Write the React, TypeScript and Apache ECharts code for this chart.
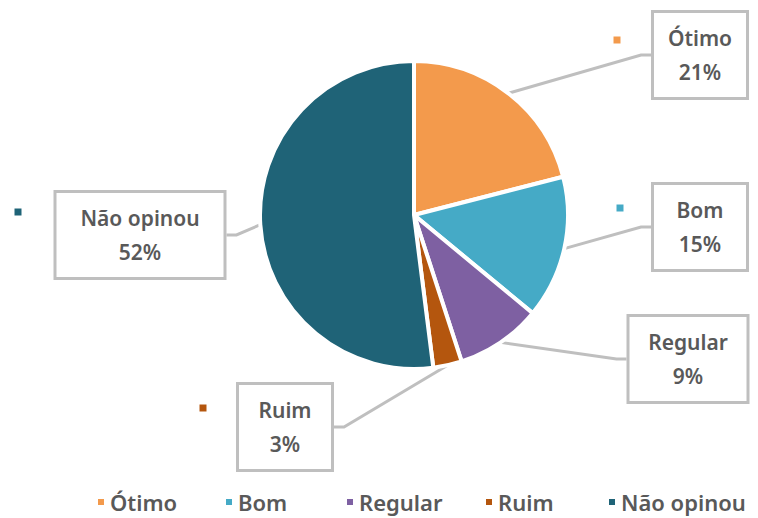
import React, { useEffect, useRef } from "react";
import * as echarts from "echarts";

const categories = ["Ótimo", "Bom", "Regular", "Ruim", "Não opinou"];
const values = [21, 15, 9, 3, 52];
const colors = ["#F39A4C", "#45AAC6", "#7E60A2", "#B4560E", "#1F6377"];
const showKey = [true, true, false, true, true];

// label box layout (center x, center y, inner width)
const boxLayout = [
  [700, 55, 76],
  [700, 227, 76],
  [688, 359, 101],
  [285, 427, 76],
  [140, 235, 151],
];
const keyLayout = [
  [617, 40],
  [620, 208],
  [0, 0],
  [203, 408],
  [18, 212],
];
// legend text slot widths
const legendWidths = [94, 87, 105, 89, 125];

const FONT = "Noto Sans";
const TXT = "#595959";

export default function App() {
  const ref = useRef<HTMLDivElement>(null);
  useEffect(() => {
    document.body.style.margin = "0";
    const chart = echarts.init(ref.current!, null, { renderer: "svg" });
    const mainData = categories.map((name, i) => ({
      name,
      value: values[i],
      itemStyle: { color: colors[i] },
      label: { width: boxLayout[i][2] },
    }));
    const keyData = categories.map((name, i) => ({
      name,
      value: values[i],
      label: {
        show: showKey[i],
        rich: { s: { width: 7, height: 7, backgroundColor: colors[i] } },
      },
    }));
    const legendRich: any = {};
    legendWidths.forEach((w, i) => {
      legendRich["w" + i] = {
        width: w,
        fontFamily: FONT,
        fontSize: 22,
        fontWeight: 600,
        color: TXT,
        lineHeight: 24,
        align: "left",
      };
    });
    chart.setOption({
      animation: false,
      textStyle: { fontFamily: FONT },
      legend: {
        data: categories,
        top: 491,
        left: 96,
        width: 700,
        padding: 0,
        icon: "rect",
        itemWidth: 8,
        itemHeight: 8,
        itemGap: 20,
        formatter: (name: string) => `{w${categories.indexOf(name)}|${name}}`,
        textStyle: { fontFamily: FONT, fontSize: 22, color: TXT, fontWeight: 600, rich: legendRich },
      },
      series: [
        {
          type: "pie",
          center: [414, 215],
          radius: 154,
          startAngle: 90,
          clockwise: true,
          silent: true,
          itemStyle: { borderColor: "#ffffff", borderWidth: 4 },
          label: {
            show: true,
            position: "outside",
            formatter: (p: any) => `{n|${p.name}}\n{n|${p.value}%}`,
            backgroundColor: "#ffffff",
            borderColor: "#BFBFBF",
            borderWidth: 3,
            padding: [8, 8],
            align: "center",
            verticalAlign: "middle",
            rich: {
              n: {
                fontFamily: FONT,
                fontSize: 21,
                fontWeight: 600,
                color: TXT,
                lineHeight: 34,
                align: "center",
              },
            },
          },
          labelLine: {
            show: true,
            length: 10,
            length2: 10,
            lineStyle: { color: "#BFBFBF", width: 3 },
          },
          labelLayout: (params: any) => {
            const b = boxLayout[params.dataIndex];
            return { x: b[0], y: b[1], align: "center", verticalAlign: "middle" };
          },
          data: mainData,
        },
        {
          type: "pie",
          center: [414, 215],
          radius: 154,
          startAngle: 90,
          silent: true,
          legendHoverLink: false,
          z: 0,
          itemStyle: { color: "rgba(0,0,0,0)" },
          label: {
            position: "outside",
            formatter: "{s|}",
            align: "center",
            verticalAlign: "middle",
          },
          labelLine: { show: false },
          labelLayout: (params: any) => {
            const k = keyLayout[params.dataIndex];
            return { x: k[0], y: k[1], align: "center", verticalAlign: "middle" };
          },
          data: keyData,
        },
      ],
    });
    return () => chart.dispose();
  }, []);
  return <div ref={ref} style={{ width: 758, height: 518 }} />;
}
